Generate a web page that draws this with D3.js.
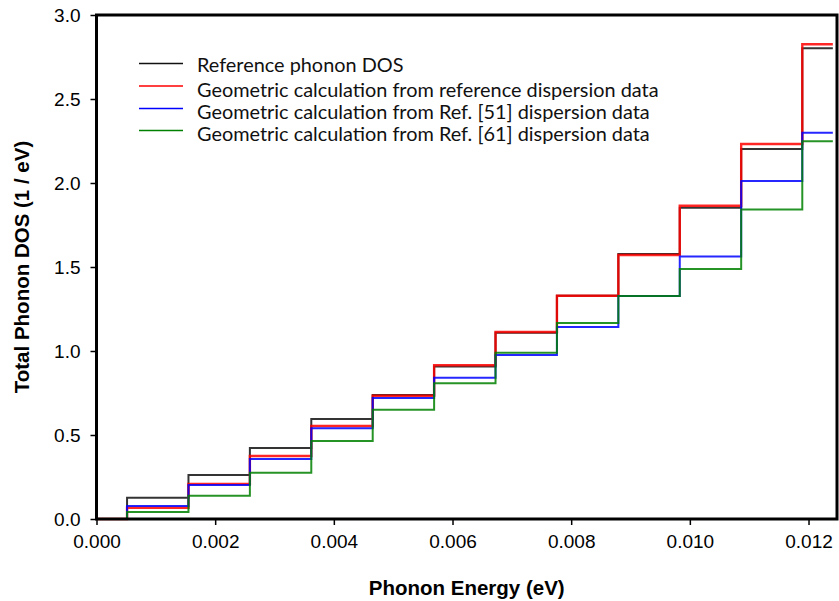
<!DOCTYPE html>
<html>
<head>
<meta charset="utf-8">
<script src="https://cdn.jsdelivr.net/npm/d3@7"></script>
<style>
  body { margin: 0; background: #fff; }
  svg { display: block; }
</style>
</head>
<body>
<script>
// phonon energy at each bin centre (eV)
let energies = [0, 0.00103, 0.00207, 0.00310, 0.00414, 0.00517, 0.00621, 0.00724, 0.00828, 0.00931, 0.01035, 0.01138, 0.01241]

let refDos   = [0, 0.127, 0.262, 0.423, 0.595, 0.738, 0.907, 1.109, 1.329, 1.577, 1.853, 2.202, 2.802]
let geoRef   = [0, 0.067, 0.208, 0.375, 0.554, 0.734, 0.915, 1.113, 1.329, 1.571, 1.865, 2.232, 2.826]
let geoRef51 = [0, 0.077, 0.202, 0.357, 0.540, 0.720, 0.841, 0.976, 1.143, 1.327, 1.563, 2.012, 2.299]
let geoRef61 = [0, 0.042, 0.139, 0.276, 0.464, 0.651, 0.808, 0.990, 1.167, 1.327, 1.488, 1.843, 2.248]

let seriesNames = [
  "Reference phonon DOS",
  "Geometric calculation from reference dispersion data",
  "Geometric calculation from Ref. [51] dispersion data",
  "Geometric calculation from Ref. [61] dispersion data"
]
let seriesColors = ["#111111", "#ff0000", "#0000ff", "#008000"]

let xTicks = [0, 0.002, 0.004, 0.006, 0.008, 0.010, 0.012]
let yTicks = [0, 0.5, 1.0, 1.5, 2.0, 2.5, 3.0]

let w = 839
let h = 601
let plotLeft = 96.5
let plotRight = 837
let plotTop = 15
let plotBottom = 519

let svg = d3.select("body").append("svg")
  .attr("width", w)
  .attr("height", h)

let xScale = d3.scaleLinear().domain([0, 0.01248]).range([plotLeft, plotRight])
let yScale = d3.scaleLinear().domain([0, 3]).range([plotBottom, plotTop])

// step lines
let allSeries = [refDos, geoRef, geoRef51, geoRef61]
let line = d3.line()
  .x((d, i) => xScale(energies[i]))
  .y(d => yScale(d))
  .curve(d3.curveStep)

svg.append("g")
  .selectAll("path")
  .data(allSeries)
  .enter()
  .append("path")
  .attr("d", d => line(d))
  .attr("fill", "none")
  .attr("stroke", (d, i) => seriesColors[i])
  .attr("stroke-width", (d, i) => i == 1 ? 2.4 : 2)
  .attr("opacity", 0.85)

// axes
let xAxis = d3.axisBottom(xScale)
  .tickValues(xTicks)
  .tickFormat(d3.format(".3f"))
  .tickSize(6)
  .tickPadding(10)
svg.append("g")
  .attr("transform", "translate(0," + plotBottom + ")")
  .call(xAxis)
  .call(g => g.select(".domain").remove())
  .call(g => g.selectAll("line").attr("stroke-width", 1.5))
  .call(g => g.selectAll("text").attr("font-family", "Liberation Sans, Arial, sans-serif").attr("font-size", 19).attr("fill", "#000"))

let yAxis = d3.axisLeft(yScale)
  .tickValues(yTicks)
  .tickFormat(d3.format(".1f"))
  .tickSize(6)
  .tickPadding(10)
svg.append("g")
  .attr("transform", "translate(" + plotLeft + ",0)")
  .call(yAxis)
  .call(g => g.select(".domain").remove())
  .call(g => g.selectAll("line").attr("stroke-width", 1.5))
  .call(g => g.selectAll("text").attr("font-family", "Liberation Sans, Arial, sans-serif").attr("font-size", 19).attr("fill", "#000"))

// frame
svg.append("rect")
  .attr("x", plotLeft)
  .attr("y", plotTop)
  .attr("width", plotRight - plotLeft)
  .attr("height", plotBottom - plotTop)
  .attr("fill", "none")
  .attr("stroke", "#000")
  .attr("stroke-width", 3)

// axis titles
svg.append("text")
  .text("Phonon Energy (eV)")
  .attr("x", (plotLeft + plotRight) / 2)
  .attr("y", 595)
  .attr("text-anchor", "middle")
  .attr("font-family", "Liberation Sans, Arial, sans-serif")
  .attr("font-weight", "bold")
  .attr("font-size", 20.5)

svg.append("text")
  .text("Total Phonon DOS (1 / eV)")
  .attr("transform", "translate(29," + ((plotTop + plotBottom) / 2) + ") rotate(-90)")
  .attr("text-anchor", "middle")
  .attr("font-family", "Liberation Sans, Arial, sans-serif")
  .attr("font-weight", "bold")
  .attr("font-size", 20.5)

// legend
let legendLineY = [63.5, 86, 108.5, 130.5]
let legendTextY = [72, 97, 119, 141]
let legend = svg.append("g")
legend.selectAll("line")
  .data(seriesNames)
  .enter()
  .append("line")
  .attr("x1", 139)
  .attr("x2", 183)
  .attr("y1", (d, i) => legendLineY[i])
  .attr("y2", (d, i) => legendLineY[i])
  .attr("stroke", (d, i) => seriesColors[i])
  .attr("stroke-width", 1.6)

let legendText = legend.selectAll("text")
  .data(seriesNames)
  .enter()
  .append("text")
  .text(d => d)
  .attr("x", 197)
  .attr("y", (d, i) => legendTextY[i])
  .attr("font-family", "Lato, 'Open Sans', sans-serif")
  .attr("font-size", 18)
  .attr("fill", "#111")

// fit longest legend entry to the width seen in the original
let longest = legendText.nodes()[1].getComputedTextLength()
legendText.attr("font-size", 18 * 462 / longest)
</script>
</body>
</html>
